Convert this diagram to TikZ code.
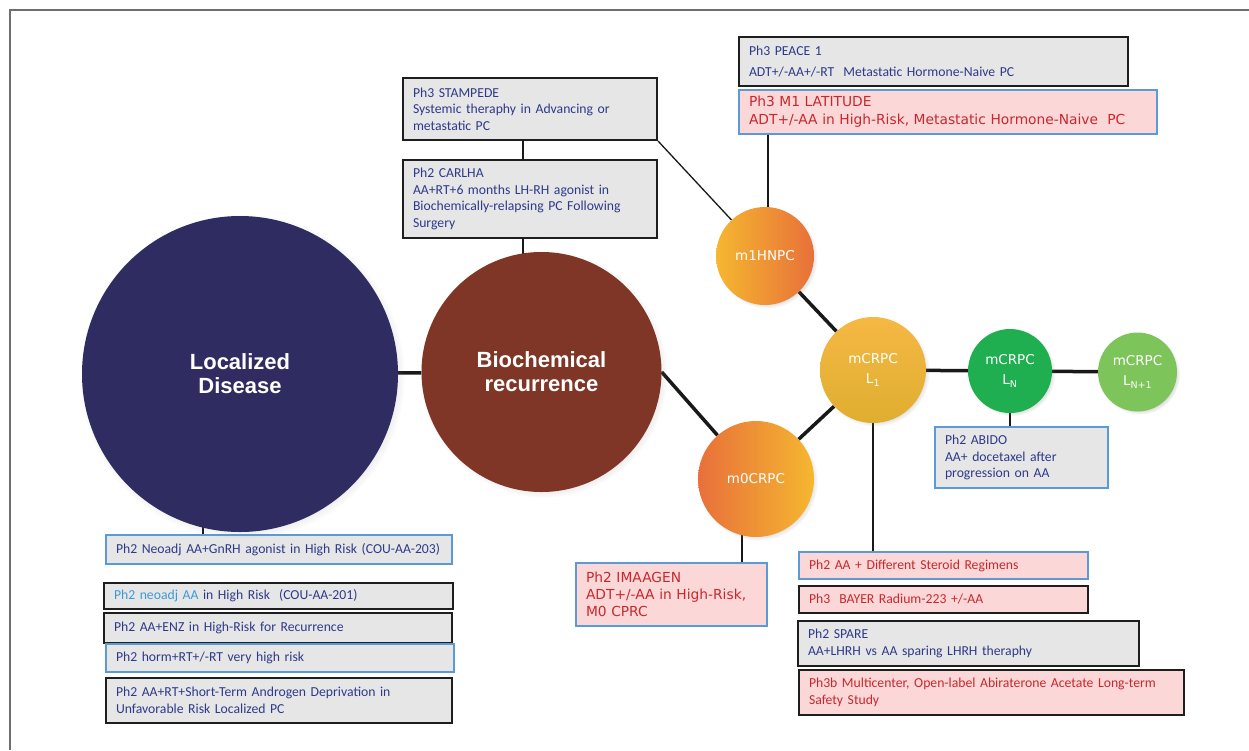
\documentclass[tikz,border=0pt]{standalone}
\usepackage{fontspec}
\newfontfamily\carl{Carlito}
\newfontfamily\dvs{DejaVu Sans}
\newfontfamily\lsans{Liberation Sans}
\usetikzlibrary{shadows,calc}
\pgfdeclarelayer{bg}
\pgfsetlayers{bg,main}
\definecolor{dkblue}{RGB}{44,58,138}
\definecolor{redtxt}{RGB}{200,40,45}
\definecolor{ltblue}{RGB}{58,154,217}
\definecolor{boxgray}{RGB}{231,230,230}
\definecolor{pinkfill}{RGB}{251,215,215}
\definecolor{edge}{RGB}{30,30,30}
\definecolor{edgeblue}{RGB}{91,155,213}
\definecolor{navy}{RGB}{47,44,98}
\definecolor{brownc}{RGB}{127,54,38}
\definecolor{orlight}{RGB}{245,183,48}
\definecolor{ordark}{RGB}{232,112,58}
\definecolor{ltop}{RGB}{245,184,68}
\definecolor{lbot}{RGB}{223,174,48}
\definecolor{greenc}{RGB}{31,174,80}
\definecolor{ltgreen}{RGB}{125,197,90}
\definecolor{framegray}{RGB}{110,110,110}
\begin{document}
\begin{tikzpicture}[x=1pt,y=-1pt,
  box/.style={rectangle, inner xsep=10pt, inner ysep=2pt, align=left,
    font=\carl\fontsize{13.7}{16.5}\selectfont, text=dkblue},
  grayb/.style={box, fill=boxgray, draw=edge, line width=2pt},
  grayblue/.style={box, fill=boxgray, draw=edgeblue, line width=1.8pt},
  pinkb/.style={box, fill=pinkfill, draw=edge, text=redtxt, line width=2pt},
  pinkblue/.style={box, fill=pinkfill, draw=edgeblue, text=redtxt, line width=1.8pt},
  disc/.style={circle, inner sep=0pt, text=white, align=center,
    font=\dvs\fontsize{13.5}{20}\selectfont,
    circular drop shadow={shadow xshift=2pt, shadow yshift=-2pt, opacity=0.35, shadow scale=1.03}},
  bigdisc/.style={disc, font=\lsans\bfseries\fontsize{22}{24}\selectfont},
  thickc/.style={line width=3.5pt, draw=black!90},
  thinc/.style={line width=1.3pt, draw=black!90}
]
\useasboundingbox (0,0) rectangle (1249,750);

% boxes
\node[grayb, text width=234pt, minimum height=62pt] (stampede) at (530,109)
  {Ph3 STAMPEDE\\Systemic theraphy in Advancing or\\metastatic~PC};
\node[grayb, text width=234pt, minimum height=78pt] (carlha) at (530,199)
  {Ph2 CARLHA\\AA+RT+6 months LH-RH agonist in\\Biochemically-relapsing PC Following\\Surgery};
\node[grayb, text width=369pt, minimum height=49pt] (peace) at (933.5,61.5)
  {Ph3 PEACE 1\\[4.5pt]ADT+/-AA+/-RT~~Metastatic~Hormone-Naive PC};
\node[pinkblue, font=\dvs\fontsize{13.8}{18}\selectfont, text width=398pt, minimum height=44pt] (latitude) at (948,112)
  {Ph3 M1 LATITUDE\\ADT+/-AA in High-Risk, Metastatic Hormone-Naive~~PC};
\node[grayblue, text width=326pt, minimum height=29pt] (neoadj) at (279,549.5)
  {Ph2 Neoadj AA+GnRH agonist in High Risk (COU-AA-203)};
\node[grayb, text width=329pt, minimum height=26pt] (neoadjaa) at (278.5,596)
  {\textcolor{ltblue}{Ph2 neoadj AA} in High Risk~~(COU-AA-201)};
\node[grayb, text width=328pt, minimum height=30pt] (enz) at (278,628)
  {Ph2 AA+ENZ in High-Risk for Recurrence};
\node[grayblue, text width=328pt, minimum height=28pt] (horm) at (280,658)
  {Ph2 horm+RT+/-RT very high risk};
\node[grayb, text width=326pt, minimum height=45pt] (shortterm) at (279,700.5)
  {Ph2 AA+RT+Short-Term~Androgen~Deprivation in\\Unfavorable Risk Localized PC};
\node[pinkblue, font=\dvs\fontsize{13.8}{17}\selectfont, text width=171pt, minimum height=63pt] (imaagen) at (671.5,594.5)
  {Ph2 IMAAGEN\\ADT+/-AA in High-Risk,\\M0 CPRC};
\node[pinkblue, text width=269pt, minimum height=27pt] (diff) at (943.5,565.5)
  {Ph2 AA + Different Steroid Regimens};
\node[pinkb, text width=269pt, minimum height=27pt] (bayer) at (943.5,599.5)
  {Ph3~~BAYER Radium-223 +/-AA};
\node[grayb, text width=321pt, minimum height=45pt] (spare) at (968.5,643.5)
  {Ph2 SPARE\\AA+LHRH vs AA sparing LHRH theraphy};
\node[pinkb, text width=365pt, minimum height=45pt] (ph3b) at (991.5,692.5)
  {Ph3b Multicenter, Open-label Abiraterone Acetate Long-term\\Safety~Study};
\node[grayblue, text width=153pt, minimum height=61pt] (abido) at (1021.5,457.5)
  {Ph2 ABIDO\\AA+ docetaxel after\\progression on AA};

% circles
\node[bigdisc, fill=navy, minimum size=316pt] (loc) at (240,374) {Localized\\Disease};
\node[bigdisc, fill=brownc, minimum size=240pt] (bio) at (541.5,372) {Biochemical\\recurrence};
\node[disc, left color=orlight, right color=ordark, minimum size=98pt] (m1) at (765,256) {m1HNPC};
\node[disc, left color=ordark, right color=orlight, minimum size=116pt] (m0) at (756,479) {m0CRPC};
\node[disc, top color=ltop, bottom color=lbot, minimum size=106pt] (l1) at (873,370) {mCRPC\\L\textsubscript{1}};
\node[disc, fill=greenc, minimum size=84pt] (ln) at (1010,371) {mCRPC\\L\textsubscript{N}};
\node[disc, fill=ltgreen, minimum size=79pt] (ln1) at (1137.5,372) {mCRPC\\L\textsubscript{N+1}};

\begin{pgfonlayer}{bg}
\fill[white] (0,0) rectangle (1249,750);
\draw[framegray, line width=2pt] (10,750) -- (10,10) -- (1249,10);
\draw[thickc] (loc) -- (bio);
\draw[thickc] (bio.east) -- (m0);
\draw[thickc] (m1) -- (l1);
\draw[thickc] (m0) -- (l1);
\draw[thickc] (l1) -- (ln);
\draw[thickc] (ln) -- (ln1);
\draw[thinc] (stampede.south east) -- (m1);
\draw[thinc] ([xshift=-7pt]stampede.south) -- ([xshift=-7pt]carlha.north);
\draw[thinc] ([xshift=-7pt]carlha.south) -- ([xshift=-7pt]carlha.south |- bio.center);
\draw[thinc] ([xshift=3pt]m1.center) -- ([xshift=3pt]m1.center |- latitude.south);
\draw[thinc] ([xshift=-37pt]loc.center) -- ([xshift=-37pt]loc.center |- neoadj.north);
\draw[thinc] ([xshift=-14pt]m0.center) -- ([xshift=-14pt]m0.center |- imaagen.north);
\draw[thinc] (l1.center) -- (l1.center |- diff.north);
\draw[thinc] (ln.center) -- (ln.center |- abido.north);
\end{pgfonlayer}
\end{tikzpicture}
\end{document}
